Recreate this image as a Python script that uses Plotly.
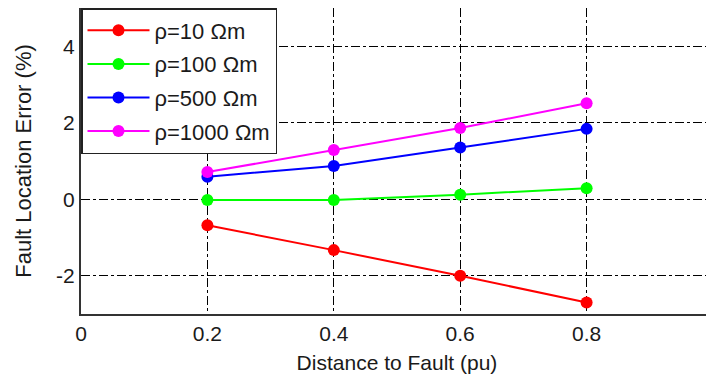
import plotly.graph_objects as go

distance = [0.2, 0.4, 0.6, 0.8]
err_10 = [-0.68, -1.33, -2.0, -2.7]
err_100 = [-0.02, -0.02, 0.12, 0.29]
err_500 = [0.59, 0.87, 1.35, 1.84]
err_1000 = [0.71, 1.29, 1.86, 2.51]

x_ticks = [0, 0.2, 0.4, 0.6, 0.8, 1]
x_ticklabels = ["0", "0.2", "0.4", "0.6", "0.8", "1"]
y_ticks = [-2, 0, 2, 4]
y_ticklabels = ["-2", "0", "2", "4"]

series = [
    ("ρ=10 Ωm", err_10, "#ff0000"),
    ("ρ=100 Ωm", err_100, "#00ff00"),
    ("ρ=500 Ωm", err_500, "#0000ff"),
    ("ρ=1000 Ωm", err_1000, "#ff00ff"),
]

font_family = "Liberation Sans, Arial, sans-serif"

fig = go.Figure()
for i, (name, vals, col) in enumerate(series):
    fig.add_trace(go.Scatter(
        x=distance, y=vals, name=name, mode="lines+markers",
        line=dict(color=col, width=2),
        marker=dict(color=col, size=12),
        legendgroup=f"g{i}",
    ))

grid = dict(showgrid=True, gridcolor="black", gridwidth=1, griddash="dashdot")

# The page body has an 8px default margin, so offsets are compensated here.
fig.update_layout(
    width=714, height=378,
    margin=dict(l=73, r=9, t=0, b=72),
    paper_bgcolor="white", plot_bgcolor="white",
    font=dict(family=font_family, size=21, color="#1a1a1a"),
    showlegend=True,
    legend=dict(
        x=0, y=1, xanchor="left", yanchor="top",
        bgcolor="white", bordercolor="#222222", borderwidth=1.5,
        font=dict(size=22, color="#1a1a1a"),
        tracegroupgap=2, traceorder="grouped", itemwidth=62,
    ),
    xaxis=dict(
        range=[0, 1], tickvals=x_ticks, ticktext=x_ticklabels,
        showline=True, linecolor="#333333", linewidth=2, mirror=True,
        ticks="", zeroline=False, automargin=False,
        ticklabeloverflow="allow",
        title=dict(text="Distance to Fault (pu)", standoff=11, font=dict(size=21)),
        **grid,
    ),
    yaxis=dict(
        range=[-3, 5], tickvals=y_ticks, ticktext=y_ticklabels,
        showline=True, linecolor="#333333", linewidth=2, mirror=False,
        ticks="", zeroline=False, automargin=False,
        title=dict(text="Fault Location Error (%)", standoff=18, font=dict(size=22)),
        **grid,
    ),
)

fig.write_html("out.html")
